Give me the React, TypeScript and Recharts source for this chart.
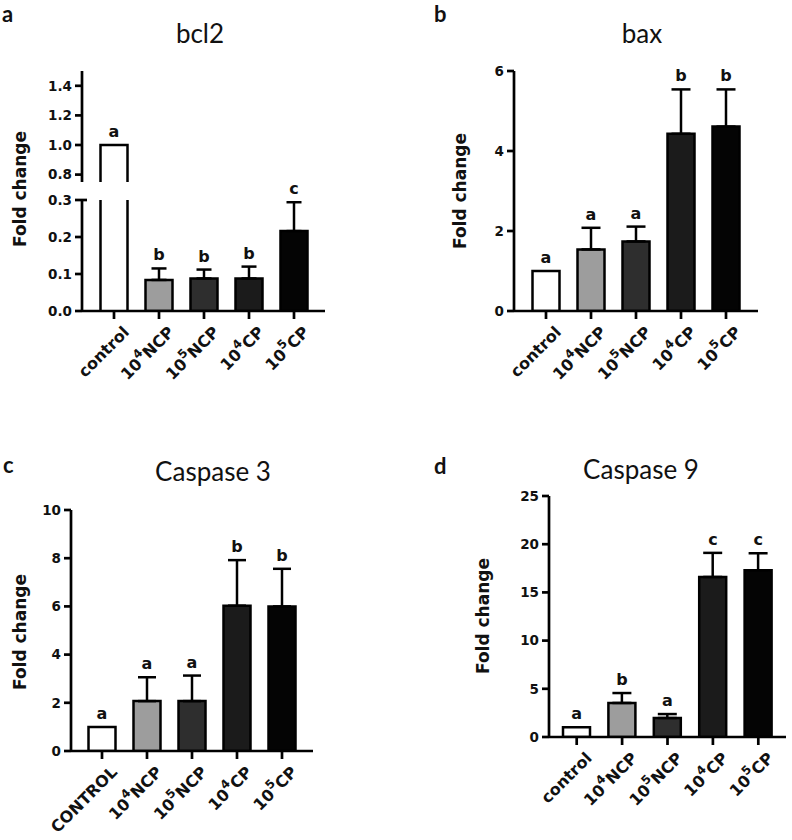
import React from "react";
import {
  ComposedChart,
  Bar,
  Cell,
  ErrorBar,
  Line,
  LabelList,
  Rectangle,
  XAxis,
  YAxis,
} from "recharts";

// groups on the x axis ("10^4NCP" -> 10 with superscript 4)
const groups = ["control", "10^4NCP", "10^5NCP", "10^4CP", "10^5CP"];
const groupsCaps = ["CONTROL", "10^4NCP", "10^5NCP", "10^4CP", "10^5CP"];
const barFills = ["#ffffff", "#9d9d9d", "#2e2e2e", "#1b1b1b", "#040404"];

// bcl2
const bcl2Mean = [1.0, 0.084, 0.088, 0.088, 0.216];
const bcl2Err = [0, 0.031, 0.024, 0.032, 0.078];
const bcl2Letters = ["a", "b", "b", "b", "c"];
const bcl2UpperDomain = [0.75, 1.5];
const bcl2UpperTicks = [0.75, 0.8, 1.0, 1.2, 1.4];
const bcl2LowerDomain = [0, 0.3];
const bcl2LowerTicks = [0, 0.1, 0.2, 0.3];

// bax
const baxMean = [1.0, 1.54, 1.74, 4.43, 4.61];
const baxErr = [0, 0.54, 0.37, 1.11, 0.93];
const baxLetters = ["a", "a", "a", "b", "b"];
const baxTicks = [0, 2, 4, 6];

// caspase 3
const casp3Mean = [1.0, 2.07, 2.07, 6.03, 6.0];
const casp3Err = [0, 0.99, 1.06, 1.89, 1.56];
const casp3Letters = ["a", "a", "a", "b", "b"];
const casp3Ticks = [0, 2, 4, 6, 8, 10];

// caspase 9
const casp9Mean = [1.0, 3.53, 1.97, 16.6, 17.3];
const casp9Err = [0, 1.03, 0.41, 2.5, 1.76];
const casp9Letters = ["a", "b", "a", "c", "c"];
const casp9Ticks = [0, 5, 10, 15, 20, 25];

const AXIS_FONT = "'DejaVu Sans', 'Liberation Sans', Arial, sans-serif";
const TITLE_FONT = "Lato, 'Open Sans', sans-serif";
const INK = "#111";
const LINE_W = 2.7;

const Y_TICK_SIZE = 7;
const Y_TICK_MARGIN = 3;
const PAD_L = 60;
const PAD_T = 30;
const PAD_R = 14;
const AXIS_H = 100;

type Row = {
  name: string;
  mean: number | null;
  err: [number, number] | null;
  top: number | null;
  letter: string | null;
};

function buildRows(
  names: string[],
  mean: number[],
  err: number[],
  letters: string[],
  keep: (i: number) => { bar: boolean; letter: boolean } = () => ({ bar: true, letter: true })
): Row[] {
  return names.map((name, i) => {
    const k = keep(i);
    return {
      name,
      mean: k.bar ? mean[i] : null,
      err: k.bar && err[i] > 0 ? [0, err[i]] : null,
      top: k.letter ? mean[i] + err[i] : null,
      letter: k.letter ? letters[i] : null,
    };
  });
}

function GroupTick(props: any) {
  const { x, y, payload } = props;
  const m = /^(\d+)\^(\d+)(.*)$/.exec(String(payload.value));
  return (
    <g transform={`translate(${x + 8},${y + 4}) rotate(-45)`}>
      <text
        textAnchor="end"
        dy="0.72em"
        fontFamily={AXIS_FONT}
        fontWeight="bold"
        fontSize={16}
        fill={INK}
      >
        {m ? (
          <>
            <tspan>{m[1]}</tspan>
            <tspan dy={-8} fontSize={12}>
              {m[2]}
            </tspan>
            <tspan dy={8}>{m[3]}</tspan>
          </>
        ) : (
          payload.value
        )}
      </text>
    </g>
  );
}

function makeYTick(fmt: (v: number) => string, breakAt?: number, hideLabel?: number) {
  return (p: any) => {
    const v = p.payload.value;
    const axisX = p.x + Y_TICK_SIZE + Y_TICK_MARGIN;
    return (
      <g>
        {breakAt !== undefined && v === breakAt && (
          <line x1={axisX} x2={axisX + 5} y1={p.y} y2={p.y} stroke="#000" strokeWidth={LINE_W} />
        )}
        {v !== hideLabel && (
          <text
            x={p.x}
            y={p.y}
            dy="0.36em"
            textAnchor="end"
            fontFamily={AXIS_FONT}
            fontWeight="bold"
            fontSize={13.5}
            fill={INK}
          >
            {fmt(v)}
          </text>
        )}
      </g>
    );
  };
}

function LetterLabel(props: any) {
  const vb = props.viewBox || {};
  const x = props.x ?? vb.x;
  const y = props.y ?? vb.y;
  if (!props.value || y == null || Number.isNaN(y)) return null;
  return (
    <text
      x={x}
      y={y - 8}
      textAnchor="middle"
      fontFamily={AXIS_FONT}
      fontWeight="bold"
      fontSize={16}
      fill={INK}
    >
      {props.value}
    </text>
  );
}

// top piece of a broken bar: no bottom edge
const openBottomBar = (p: any) => (
  <path
    d={`M${p.x},${p.y + p.height} V${p.y} H${p.x + p.width} V${p.y + p.height}`}
    fill={p.fill}
    stroke="#000"
    strokeWidth={2.5}
  />
);

// bottom piece of a broken bar: only the two sides (clipped at the break)
const makeLowerBar = (max: number) => (p: any) => {
  if (p.payload.mean > max) {
    return (
      <g>
        <rect x={p.x} y={p.y} width={p.width} height={p.height} fill={p.fill} />
        <path
          d={`M${p.x},${p.y + p.height} V${p.y} M${p.x + p.width},${p.y} V${p.y + p.height}`}
          fill="none"
          stroke="#000"
          strokeWidth={2.5}
        />
      </g>
    );
  }
  return <Rectangle {...p} />;
};

type Box = { x0: number; x1: number; y0: number; y1: number };

function BarPanel({
  box,
  rows,
  domain,
  ticks,
  fmt,
  pad,
  capHalf,
  showX = true,
  shape,
  breakAt,
  hideLabel,
}: {
  box: Box;
  rows: Row[];
  domain: number[];
  ticks: number[];
  fmt: (v: number) => string;
  pad: { left: number; right: number };
  capHalf: number;
  showX?: boolean;
  shape?: any;
  breakAt?: number;
  hideLabel?: number;
}) {
  const bottomGap = showX ? 0 : 4;
  const width = box.x1 - box.x0 + PAD_L + PAD_R;
  const height = box.y1 - box.y0 + PAD_T + (showX ? AXIS_H : bottomGap);
  const axisStyle = { stroke: "#000", strokeWidth: LINE_W };
  return (
    <div style={{ position: "absolute", left: box.x0 - PAD_L, top: box.y0 - PAD_T }}>
      <ComposedChart
        width={width}
        height={height}
        data={rows}
        margin={{ top: PAD_T, right: PAD_R, bottom: bottomGap, left: 0 }}
      >
        <XAxis
          dataKey="name"
          hide={!showX}
          height={AXIS_H}
          padding={pad}
          interval={0}
          axisLine={axisStyle}
          tickLine={axisStyle}
          tickSize={8}
          tickMargin={2}
          tick={<GroupTick />}
        />
        <YAxis
          width={PAD_L}
          type="number"
          domain={domain}
          ticks={ticks}
          allowDataOverflow
          axisLine={axisStyle}
          tickLine={axisStyle}
          tickSize={Y_TICK_SIZE}
          tickMargin={Y_TICK_MARGIN}
          tick={makeYTick(fmt, breakAt, hideLabel)}
        />
        <Bar
          dataKey="mean"
          barSize={27}
          stroke="#000"
          strokeWidth={2.5}
          isAnimationActive={false}
          shape={shape}
        >
          {rows.map((r, i) => (
            <Cell key={r.name} fill={barFills[i]} />
          ))}
          <ErrorBar
            dataKey="err"
            direction="y"
            width={capHalf}
            stroke="#000"
            strokeWidth={2.5}
            isAnimationActive={false}
          />
        </Bar>
        <Line
          dataKey="top"
          stroke="none"
          dot={false}
          activeDot={false}
          legendType="none"
          isAnimationActive={false}
        >
          <LabelList dataKey="letter" content={LetterLabel} />
        </Line>
      </ComposedChart>
    </div>
  );
}

const fixed1 = (v: number) => v.toFixed(1);
const plain = (v: number) => String(v);

export default function App() {
  const upperMin = bcl2UpperDomain[0];
  const lowerMax = bcl2LowerDomain[1];
  const bcl2Upper = buildRows(groups, bcl2Mean, bcl2Err, bcl2Letters, (i) => ({
    bar: bcl2Mean[i] >= upperMin,
    letter: bcl2Mean[i] + bcl2Err[i] > lowerMax,
  }));
  const bcl2Lower = buildRows(groups, bcl2Mean, bcl2Err, bcl2Letters, (i) => ({
    bar: true,
    letter: bcl2Mean[i] + bcl2Err[i] <= lowerMax,
  }));
  const bax = buildRows(groups, baxMean, baxErr, baxLetters);
  const casp3 = buildRows(groupsCaps, casp3Mean, casp3Err, casp3Letters);
  const casp9 = buildRows(groups, casp9Mean, casp9Err, casp9Letters);

  const panelLetter = { fontFamily: TITLE_FONT, fontWeight: 700, fontSize: 22, fill: INK };
  const title = { fontFamily: TITLE_FONT, fontSize: 26, fill: INK, textAnchor: "middle" as const };
  const yTitle = {
    fontFamily: AXIS_FONT,
    fontWeight: 700,
    fontSize: 17,
    fill: INK,
    textAnchor: "middle" as const,
  };

  return (
    <div
      style={{
        position: "absolute",
        left: 0,
        top: 0,
        width: 792,
        height: 840,
        background: "#fff",
      }}
    >
      <svg width={792} height={840} style={{ position: "absolute", left: 0, top: 0 }}>
        <text x={2} y={22} {...panelLetter}>a</text>
        <text x={434} y={22} {...panelLetter}>b</text>
        <text x={3} y={473} {...panelLetter}>c</text>
        <text x={434} y={474} {...panelLetter}>d</text>

        <text x={200} y={43} {...title}>bcl2</text>
        <text x={642} y={43} {...title}>bax</text>
        <text x={213} y={481} {...title}>Caspase 3</text>
        <text x={641} y={479} {...title}>Caspase 9</text>

        <text transform="translate(26,189) rotate(-90)" {...yTitle}>Fold change</text>
        <text transform="translate(466,191) rotate(-90)" {...yTitle}>Fold change</text>
        <text transform="translate(26,632) rotate(-90)" {...yTitle}>Fold change</text>
        <text transform="translate(489,616) rotate(-90)" {...yTitle}>Fold change</text>
      </svg>

      <BarPanel
        box={{ x0: 82, x1: 325, y0: 71, y1: 182 }}
        rows={bcl2Upper}
        domain={bcl2UpperDomain}
        ticks={bcl2UpperTicks}
        fmt={fixed1}
        pad={{ left: 9.5, right: 8.5 }}
        capHalf={7.5}
        showX={false}
        shape={openBottomBar}
        breakAt={upperMin}
        hideLabel={upperMin}
      />
      <BarPanel
        box={{ x0: 82, x1: 325, y0: 200, y1: 311 }}
        rows={bcl2Lower}
        domain={bcl2LowerDomain}
        ticks={bcl2LowerTicks}
        fmt={fixed1}
        pad={{ left: 9.5, right: 8.5 }}
        capHalf={7.5}
        shape={makeLowerBar(lowerMax)}
        breakAt={lowerMax}
      />
      <BarPanel
        box={{ x0: 514, x1: 758, y0: 71, y1: 311 }}
        rows={bax}
        domain={[0, 6]}
        ticks={baxTicks}
        fmt={plain}
        pad={{ left: 9.5, right: 9.5 }}
        capHalf={9.5}
      />
      <BarPanel
        box={{ x0: 71, x1: 313, y0: 510, y1: 751 }}
        rows={casp3}
        domain={[0, 10]}
        ticks={casp3Ticks}
        fmt={plain}
        pad={{ left: 8.5, right: 8.5 }}
        capHalf={9}
      />
      <BarPanel
        box={{ x0: 549, x1: 786, y0: 496, y1: 737 }}
        rows={casp9}
        domain={[0, 25]}
        ticks={casp9Ticks}
        fmt={plain}
        pad={{ left: 5, right: 5 }}
        capHalf={9.5}
      />
    </div>
  );
}
